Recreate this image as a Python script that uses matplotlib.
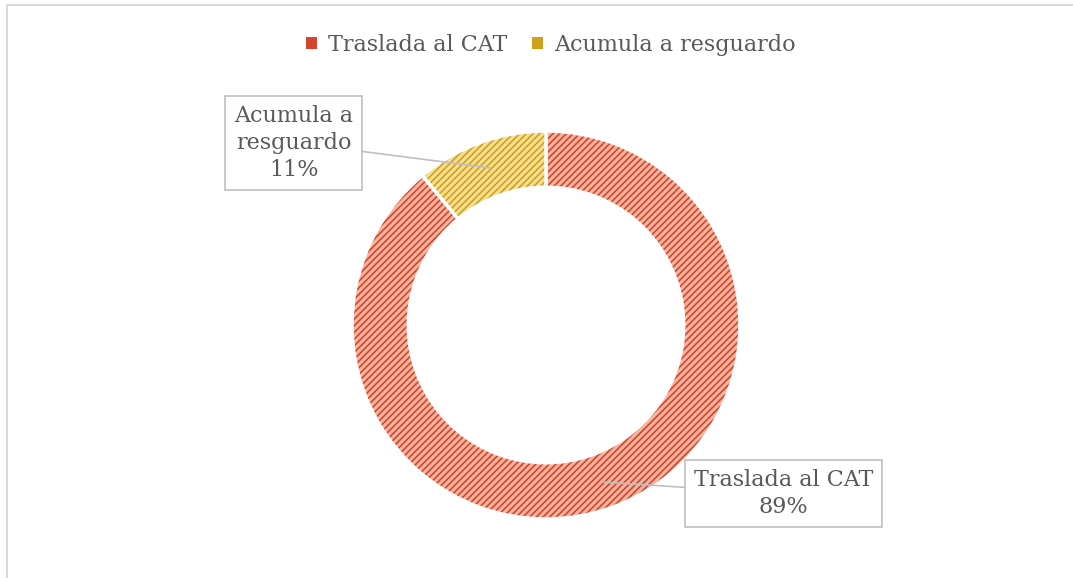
import matplotlib.pyplot as plt
from matplotlib.patches import Rectangle
import matplotlib as mpl

# Datos
categorias = ["Traslada al CAT", "Acumula a resguardo"]
porcentajes = [89, 11]
etiquetas = ["Traslada al CAT\n89%", "Acumula a\nresguardo\n11%"]

colores_fondo = ["#F7B5A0", "#F6DF92"]
colores_trama = ["#D2452E", "#CFA21E"]

plt.rcParams['font.family'] = ['DejaVu Serif']
mpl.rcParams['hatch.linewidth'] = 1.2

fig = plt.figure(figsize=(10.73, 5.78), dpi=100)

# marco gris de la figura
fig.patches.append(Rectangle((7 / 1073, -0.01), 1.02, 1 - 5 / 578 + 0.01,
                             transform=fig.transFigure, fill=False,
                             edgecolor="#D9D9D9", linewidth=1.5))

cx, cy, r = 546 / 1073, 1 - 325 / 578, 194
w, h = 2 * r / 1073, 2 * r / 578
ax = fig.add_axes([cx - w / 2, cy - h / 2, w, h])

wedges, _ = ax.pie(porcentajes, startangle=90, counterclock=False, radius=1,
                   colors=colores_fondo,
                   wedgeprops=dict(width=0.29, edgecolor="white", linewidth=2.5))
for wd, c in zip(wedges, colores_trama):
    wd.set_hatch("/////")
    wd._hatch_color = mpl.colors.to_rgba(c)
ax.set_xlim(-1, 1)
ax.set_ylim(-1, 1)
ax.set_aspect("equal")
ax.axis("off")

# etiquetas con recuadro y linea guia
box = dict(boxstyle="square,pad=0.4", fc="white", ec="#BFBFBF", lw=1.2)
ax.annotate(etiquetas[0], xy=(0.30, -0.81), xytext=(1.225, -0.87),
            ha="center", va="center", fontsize=16, color="#595959",
            linespacing=1.3, bbox=box,
            arrowprops=dict(arrowstyle="-", color="#BFBFBF", lw=1.2,
                            shrinkA=0, shrinkB=0))
ax.annotate(etiquetas[1], xy=(-0.29, 0.81), xytext=(-1.30, 0.94),
            ha="center", va="center", fontsize=16, color="#595959",
            linespacing=1.3, bbox=box,
            arrowprops=dict(arrowstyle="-", color="#BFBFBF", lw=1.2,
                            shrinkA=0, shrinkB=0))

# leyenda
handles = [Rectangle((0, 0), 1, 1, facecolor=c) for c in colores_trama]
fig.legend(handles, categorias, loc="center", bbox_to_anchor=(0.513, 1 - 45 / 578),
           ncol=2, frameon=False, fontsize=16, handlelength=0.5,
           handleheight=0.5, handletextpad=0.5, columnspacing=1.1,
           labelcolor="#595959")

plt.savefig("out.png", dpi=100)
